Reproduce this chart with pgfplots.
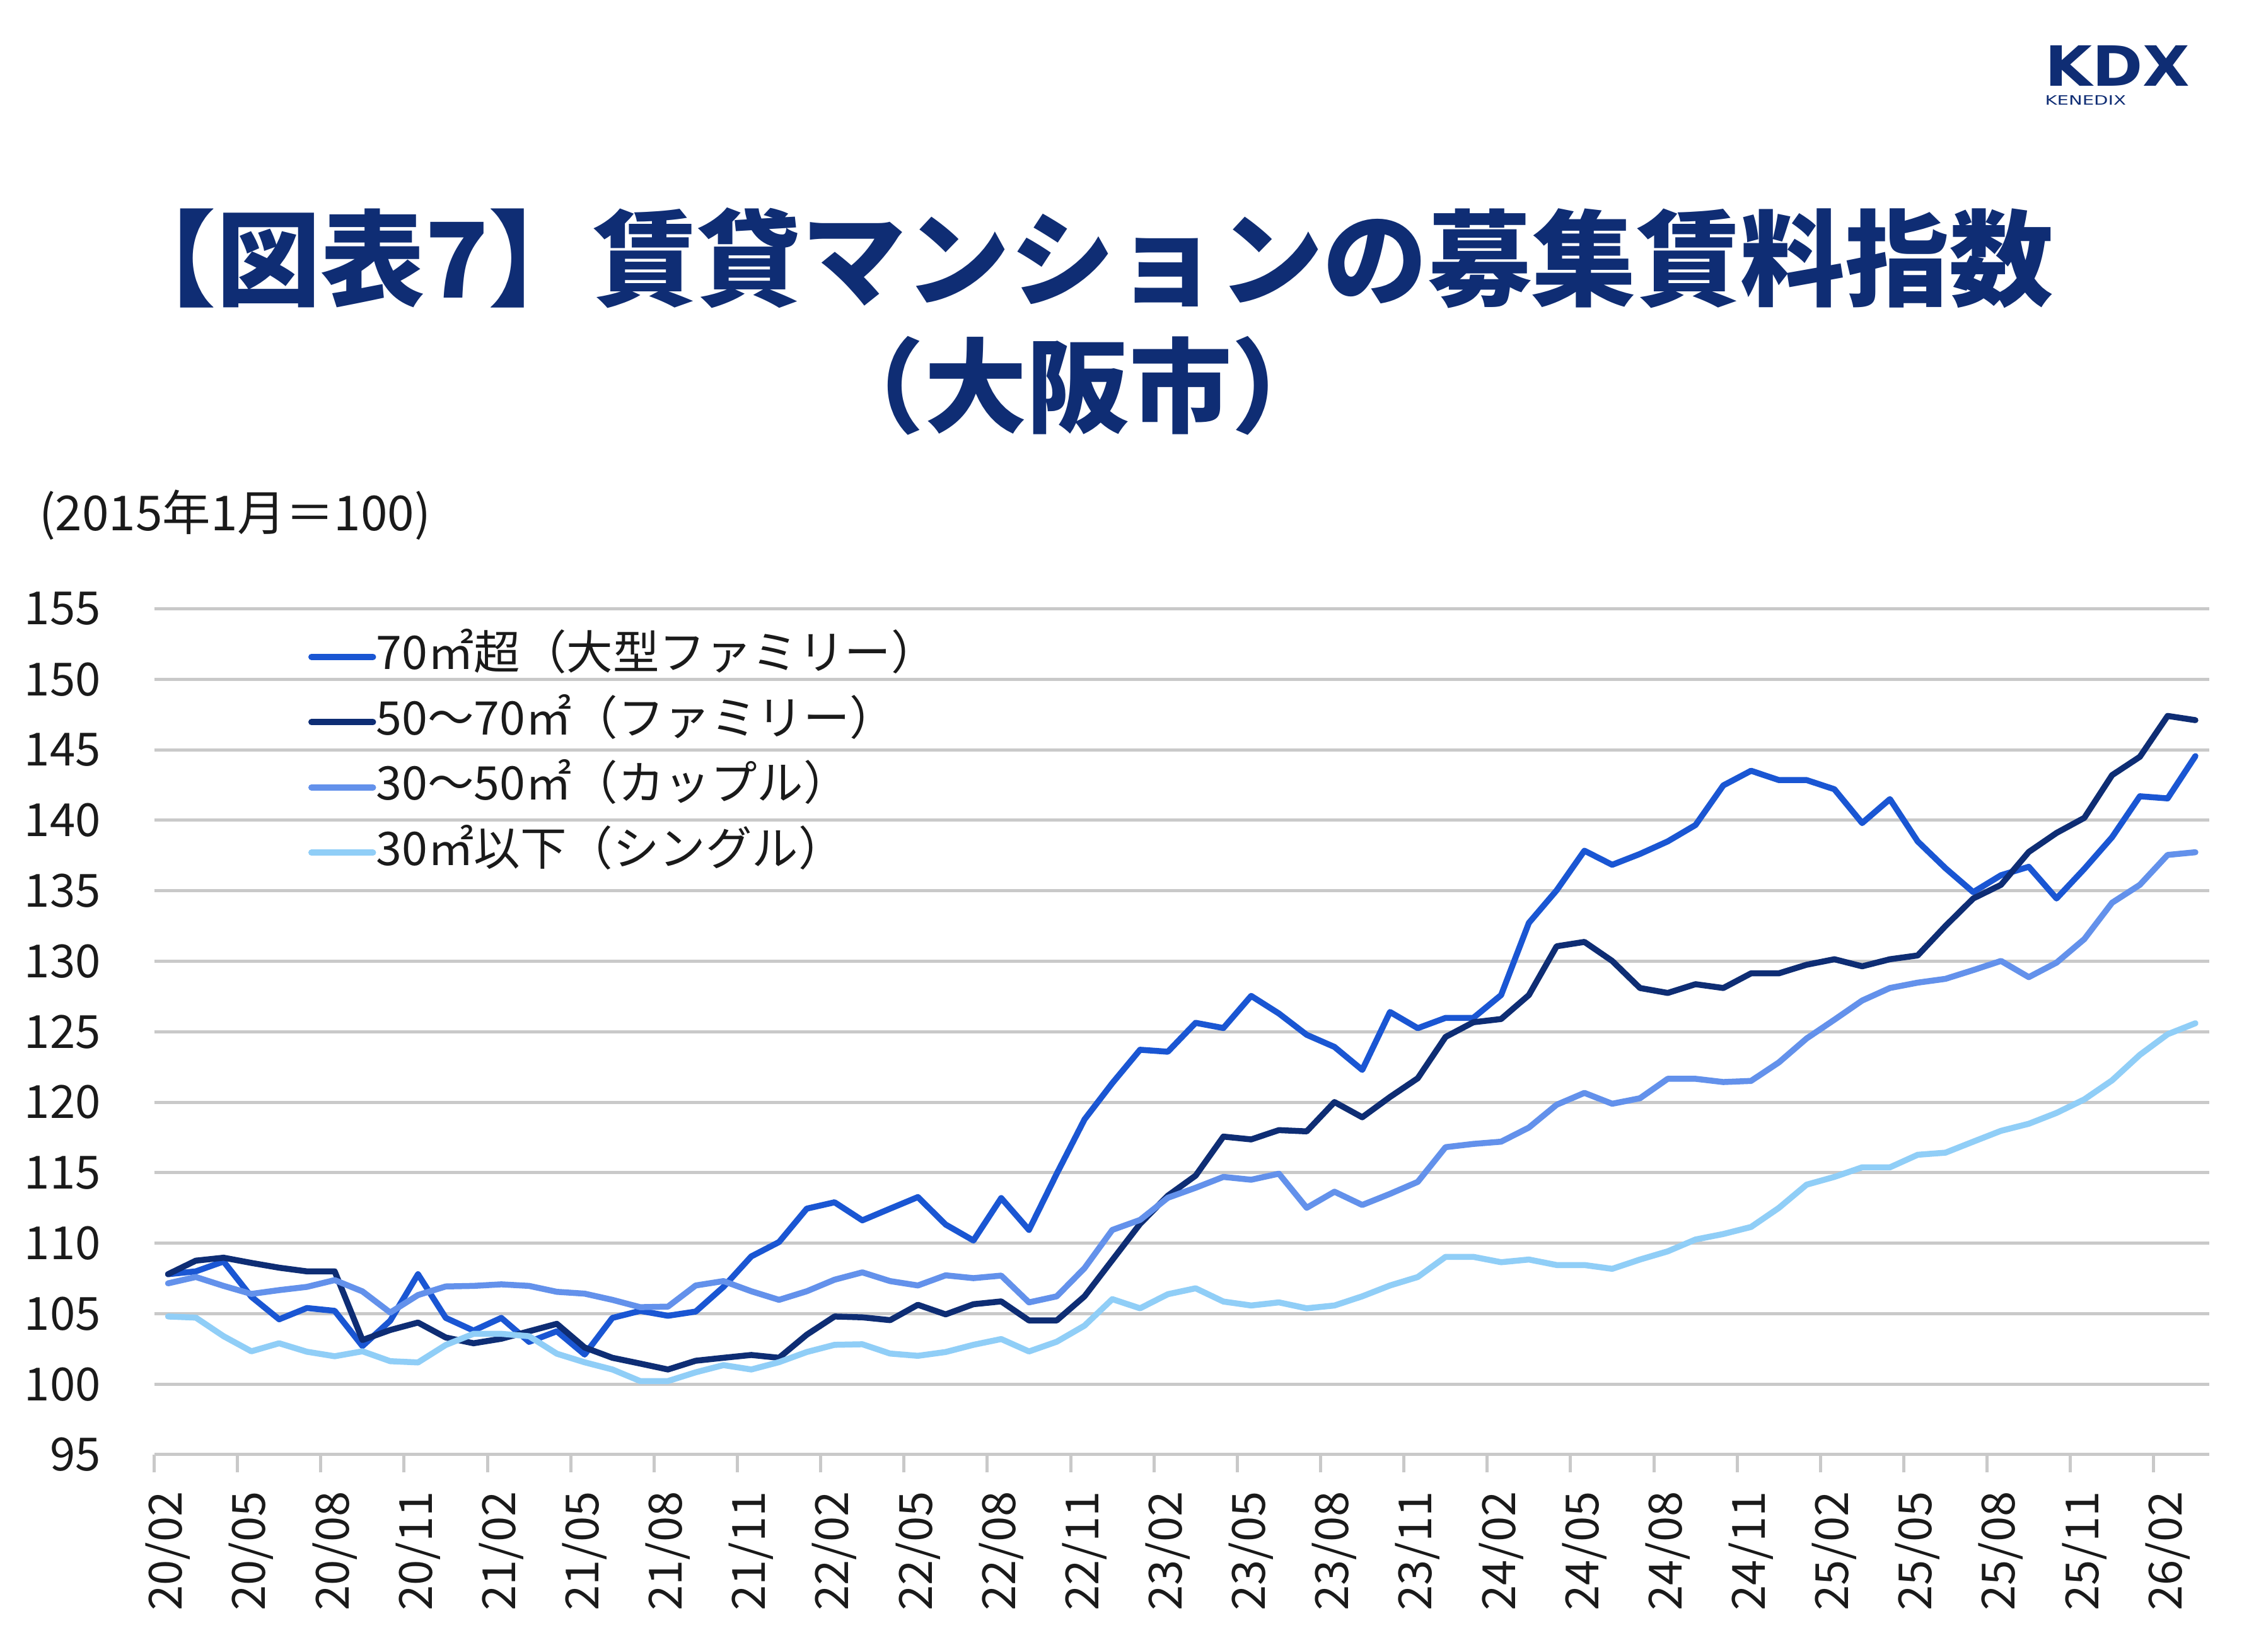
\documentclass[border=0pt]{standalone}
\usepackage{pgfplots}
\pgfplotsset{compat=1.18}
\usepackage{pgfplotstable}
\usepackage{fontspec}
\setmainfont{Noto Sans CJK JP}
\newfontfamily\logofont{DejaVu Sans}

\definecolor{seriesA}{RGB}{26,86,211}
\definecolor{seriesB}{RGB}{14,45,116}
\definecolor{seriesC}{RGB}{99,145,235}
\definecolor{seriesD}{RGB}{144,206,247}
\definecolor{gridgray}{RGB}{201,201,201}
\definecolor{titlenavy}{RGB}{15,45,116}
\definecolor{ink}{RGB}{26,26,26}

% Monthly rent index, Osaka City (Jan 2015 = 100), Feb 2020 - Mar 2026
\pgfplotstableread{
i   large   family  couple  single
0   107.8   107.8   107.15  104.8
1   108.0   108.76  107.6   104.72
2   108.7   108.97  106.97  103.4
3   106.2   108.6   106.4   102.33
4   104.6   108.26  106.67  102.9
5   105.4   108.0   106.9   102.3
6   105.2   108.0   107.38  101.98
7   102.7   103.13  106.58  102.33
8   104.5   103.84  105.08  101.63
9   107.8   104.37  106.32  101.54
10  104.7   103.31  106.93  102.78
11  103.8   102.9   106.97  103.57
12  104.7   103.22  107.08  103.57
13  103.0   103.75  106.97  103.4
14  103.75  104.28  106.55  102.16
15  102.1   102.6   106.42  101.55
16  104.7   101.87  105.98  101.04
17  105.2   101.46  105.46  100.22
18  104.85  101.04  105.5   100.22
19  105.15  101.66  107.0   100.84
20  106.9   101.87  107.31  101.35
21  109.06  102.07  106.59  101.04
22  110.08  101.87  105.98  101.56
23  112.45  103.51  106.59  102.28
24  112.9   104.8   107.41  102.79
25  111.62  104.74  107.93  102.83
26  112.45  104.54  107.31  102.17
27  113.27  105.63  107.0   102.01
28  111.32  104.95  107.72  102.28
29  110.19  105.67  107.52  102.79
30  113.2   105.87  107.7   103.2
31  110.94  104.52  105.8   102.32
32  114.93  104.52  106.23  103.01
33  118.78  106.23  108.23  104.15
34  121.35  108.8   110.94  106.03
35  123.72  111.37  111.65  105.38
36  123.58  113.37  113.22  106.38
37  125.63  114.79  113.93  106.8
38  125.26  117.56  114.7   105.86
39  127.54  117.36  114.5   105.58
40  126.29  118.02  114.93  105.8
41  124.78  117.93  112.51  105.38
42  123.92  120.01  113.65  105.58
43  122.29  118.93  112.71  106.23
44  126.4   120.37  113.5   107.0
45  125.25  121.7   114.35  107.6
46  125.98  124.63  116.81  109.03
47  125.98  125.67  117.04  109.03
48  127.6   125.9   117.2   108.65
49  132.72  127.6   118.2   108.84
50  135.03  131.06  119.82  108.45
51  137.84  131.37  120.66  108.45
52  136.84  130.02  119.89  108.18
53  137.61  128.1   120.28  108.84
54  138.5   127.75  121.66  109.42
55  139.66  128.37  121.66  110.26
56  142.47  128.1   121.43  110.65
57  143.51  129.14  121.51  111.15
58  142.85  129.14  122.82  112.5
59  142.85  129.75  124.52  114.15
60  142.2   130.14  125.85  114.7
61  139.8   129.64  127.21  115.38
62  141.5   130.14  128.1   115.38
63  138.5   130.41  128.48  116.27
64  136.6   132.5   128.75  116.42
65  134.9   134.45  129.37  117.2
66  136.1   135.42  130.02  117.97
67  136.7   137.75  128.87  118.47
68  134.45  139.1   129.9   119.24
69  136.55  140.17  131.57  120.2
70  138.8   143.2   134.15  121.55
71  141.7   144.5   135.42  123.36
72  141.55  147.4   137.54  124.82
73  144.55  147.1   137.73  125.6
}\rentdata

\begin{document}
\begin{tikzpicture}
\useasboundingbox (0pt,0pt) rectangle (713.4pt,523.8pt);
\fill[white] (0pt,0pt) rectangle (713.4pt,523.8pt);

% title
\node[inner sep=0pt, text=titlenavy, font={\fontsize{33.1pt}{33.1pt}\selectfont\bfseries}]
  at (343.5pt,441.9pt) {【図表7】賃貸マンションの募集賃料指数};
\node[inner sep=0pt, text=titlenavy, font={\fontsize{32.5pt}{32.5pt}\selectfont\bfseries}]
  at (342pt,401.5pt) {（大阪市）};

% logo: wordmark with the company name set under it
\node[anchor=north west, inner sep=0pt, text=titlenavy] at (648.5pt,509.6pt)
  {\vbox{\offinterlineskip
    \hbox{\scalebox{1.1}[1]{\logofont\bfseries\fontsize{17.6pt}{17.6pt}\selectfont KDX}}
    \kern3pt
    \hbox{\scalebox{1.42}[1]{\logofont\fontsize{4.1pt}{4.1pt}\selectfont KENEDIX}}}};

% unit note
\node[anchor=west, inner sep=0pt, text=ink, font={\fontsize{15.3pt}{18pt}\selectfont}]
  at (12.2pt,360.5pt) {(2015年1月＝100)};

\begin{axis}[
  at={(48.9pt,62.4pt)}, anchor=south west,
  scale only axis, width=651.9pt, height=268.3pt,
  xmin=-0.5, xmax=73.5, ymin=95, ymax=155,
  axis x line*=bottom, axis y line*=left,
  axis line style={draw=none},
  xtick pos=bottom, ytick pos=left,
  major tick length=0pt,
  ytick={95,100,...,155},
  ymajorgrids,
  grid style={draw=gridgray, line width=1pt},
  xtick={0,3,...,72},
  xticklabels={20/02,20/05,20/08,20/11,21/02,21/05,21/08,21/11,22/02,22/05,22/08,22/11,
    23/02,23/05,23/08,23/11,24/02,24/05,24/08,24/11,25/02,25/05,25/08,25/11,26/02},
  extra x ticks={-0.5,2.5,...,71.5},
  extra x tick labels={},
  extra x tick style={major tick length=5.7pt, tick align=outside,
    tick style={draw=gridgray, line width=1pt}},
  /pgf/number format/assume math mode=true,
  tick label style={text=ink, font={\fontsize{14.5pt}{17pt}\selectfont}},
  yticklabel style={anchor=east, inner sep=0pt, xshift=-16.8pt},
  xticklabel style={yshift=-11.5pt, rotate=90, anchor=east, inner sep=0pt},
  legend cell align=left,
  legend style={at={(0.0747,0.97)}, anchor=north west, draw=none, fill=none,
    inner sep=0pt, row sep=6.7pt, text=ink,
    font={\fontsize{14.7pt}{17pt}\selectfont},
    nodes={inner sep=0pt, text height=11pt, text depth=3pt},
    /tikz/every even column/.append style={column sep=2pt}},
  legend image code/.code={\draw[#1, line width=2pt, line cap=round] (0pt,0pt) -- (19.5pt,0pt);},
  every axis plot/.append style={line width=1.9pt, line join=round, line cap=round},
]
\addplot[color=seriesA] table[x=i, y=large]  {\rentdata};
\addlegendentry{70㎡超（大型ファミリー）}
\addplot[color=seriesB] table[x=i, y=family] {\rentdata};
\addlegendentry{50～70㎡（ファミリー）}
\addplot[color=seriesC] table[x=i, y=couple] {\rentdata};
\addlegendentry{30～50㎡（カップル）}
\addplot[color=seriesD] table[x=i, y=single] {\rentdata};
\addlegendentry{30㎡以下（シングル）}
\end{axis}
\end{tikzpicture}
\end{document}
